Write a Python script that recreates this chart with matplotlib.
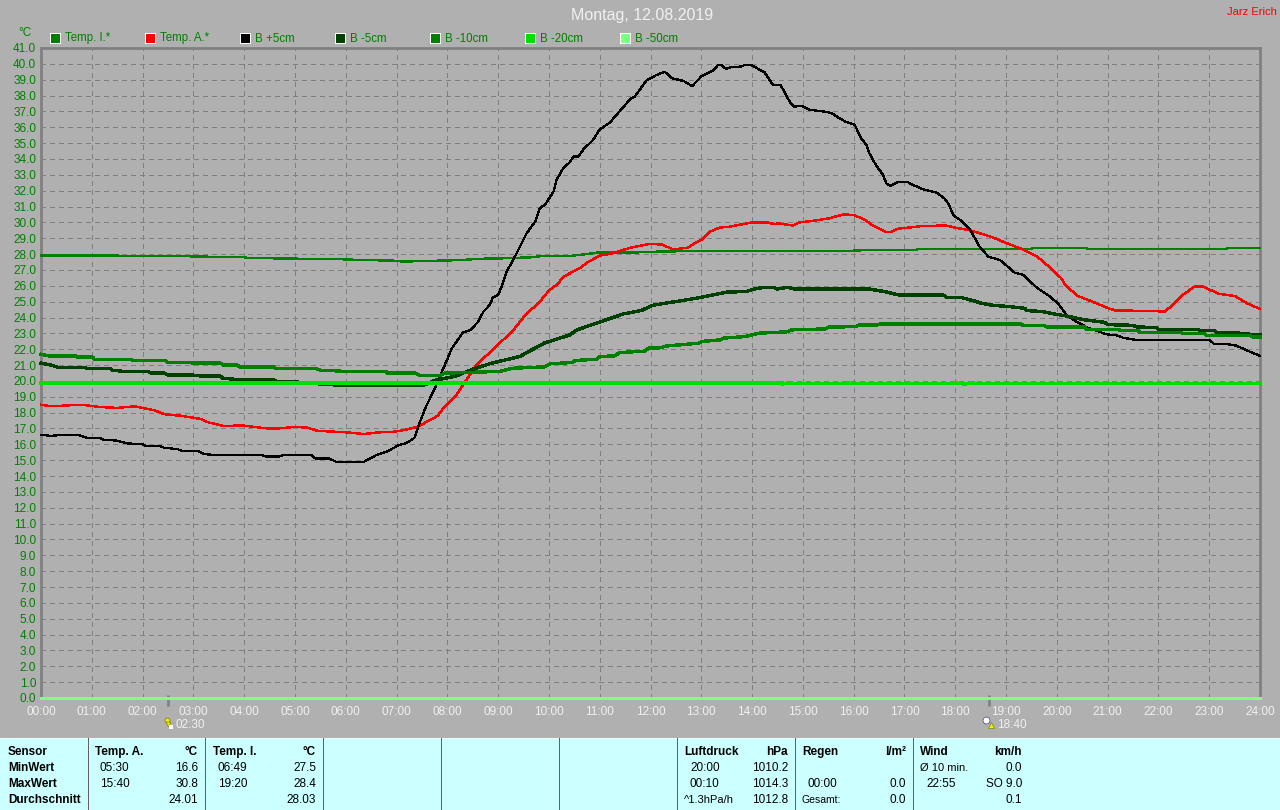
import matplotlib
matplotlib.use("Agg")
import matplotlib.pyplot as plt
from matplotlib.patches import Rectangle

plt.rcParams['font.family'] = ['Liberation Sans', 'DejaVu Sans']
plt.rcParams['lines.scale_dashes'] = False

title = "Montag, 12.08.2019"
author = "Jarz Erich"

hours = [f"{h:02d}:00" for h in range(25)]
temps = list(range(0, 42))

# Temp. I.
ti_t = [0, 1.5, 2.9, 3.0, 4.0, 4.1, 5.0, 5.1, 6.0, 6.1, 7.0, 7.1, 7.66, 8.31, 8.58, 9.17, 9.66, 9.86, 10.41, 10.74, 10.94, 11.66, 12.19, 12.97, 15.92, 16.25, 17.23, 17.26, 19.5, 19.53, 20.58, 20.6, 23.34, 23.37, 24]
ti_v = [27.9, 27.9, 27.87, 27.85, 27.8, 27.75, 27.72, 27.7, 27.67, 27.65, 27.58, 27.53, 27.57, 27.63, 27.7, 27.74, 27.8, 27.88, 27.88, 28.0, 28.09, 28.1, 28.16, 28.2, 28.2, 28.26, 28.26, 28.33, 28.33, 28.39, 28.39, 28.33, 28.33, 28.39, 28.39]

# Temp. A.
ta_t = [0, .2, .79, 1.18, 1.51, 1.84, 2.23, 2.43, 2.76, 3.15, 3.28, 3.61, 3.94, 4.2, 4.46, 4.66, 4.99, 5.25, 5.45, 5.77, 6.04, 6.36, 6.63, 6.96, 7.15, 7.41, 7.61, 7.81, 7.92, 8.15, 8.31, 8.57, 8.97, 9.3, 9.52, 9.82, 10.0, 10.15, 10.3, 10.6, 10.77, 11.0, 11.25, 11.6, 12.0, 12.22, 12.45, 12.74, 12.87, 13.03, 13.16, 13.36, 13.56, 14.0, 14.31, 14.41, 14.54, 14.8, 14.93, 15.2, 15.52, 15.79, 16.0, 16.2, 16.38, 16.64, 16.74, 16.87, 17.17, 17.36, 17.82, 18.03, 18.29, 18.55, 18.75, 19.0, 19.33, 19.63, 19.83, 20.08, 20.18, 20.41, 20.7, 21.0, 21.16, 21.82, 22.12, 22.25, 22.48, 22.71, 22.88, 23.18, 23.5, 23.74, 24]
ta_v = [18.5, 18.4, 18.5, 18.35, 18.3, 18.4, 18.15, 17.9, 17.8, 17.6, 17.4, 17.15, 17.2, 17.1, 17.0, 17.0, 17.1, 17.05, 16.85, 16.8, 16.75, 16.65, 16.75, 16.8, 16.9, 17.1, 17.45, 17.8, 18.27, 19.0, 19.75, 21.0, 22.2, 23.2, 24.1, 25.0, 25.7, 26.05, 26.6, 27.1, 27.5, 27.9, 28.05, 28.4, 28.65, 28.6, 28.3, 28.4, 28.7, 28.95, 29.4, 29.67, 29.73, 30.0, 30.0, 29.9, 29.93, 29.8, 30.0, 30.1, 30.26, 30.5, 30.47, 30.2, 29.8, 29.4, 29.4, 29.6, 29.7, 29.78, 29.8, 29.65, 29.5, 29.25, 29.04, 28.7, 28.3, 27.8, 27.25, 26.5, 26.0, 25.36, 25.0, 24.6, 24.44, 24.42, 24.37, 24.7, 25.43, 25.95, 25.95, 25.5, 25.36, 24.9, 24.54]

# B +5cm
b5_t = [0, .2, .39, .72, .92, 1.15, 1.25, 1.48, 1.71, 1.97, 2.07, 2.33, 2.43, 2.69, 2.76, 3.08, 3.22, 3.41, 4.33, 4.43, 4.69, 4.79, 5.31, 5.41, 5.68, 5.81, 6.36, 6.46, 6.59, 6.82, 7.05, 7.19, 7.35, 7.45, 7.58, 7.74, 7.99, 8.09, 8.31, 8.45, 8.61, 8.71, 8.84, 8.89, 9.0, 9.07, 9.17, 9.33, 9.56, 9.73, 9.82, 9.92, 10.09, 10.15, 10.28, 10.41, 10.48, 10.58, 10.68, 10.87, 10.99, 11.2, 11.4, 11.6, 11.69, 11.92, 12.12, 12.28, 12.42, 12.65, 12.82, 13.0, 13.23, 13.33, 13.39, 13.49, 13.59, 13.79, 13.85, 13.98, 14.12, 14.25, 14.41, 14.56, 14.74, 14.82, 14.97, 15.13, 15.4, 15.56, 15.72, 15.85, 16.02, 16.15, 16.25, 16.31, 16.44, 16.58, 16.64, 16.72, 16.87, 17.07, 17.17, 17.36, 17.63, 17.79, 17.86, 17.97, 18.12, 18.28, 18.48, 18.65, 18.88, 19.17, 19.33, 19.6, 19.83, 20.02, 20.19, 20.38, 20.61, 20.98, 21.17, 21.3, 21.53, 23.0, 23.09, 23.34, 23.53, 23.76, 24]
b5_v = [16.6, 16.53, 16.6, 16.6, 16.4, 16.4, 16.28, 16.24, 16.05, 16.03, 15.9, 15.9, 15.78, 15.7, 15.6, 15.6, 15.38, 15.33, 15.33, 15.23, 15.23, 15.35, 15.35, 15.1, 15.1, 14.9, 14.9, 15.08, 15.3, 15.56, 15.96, 16.07, 16.4, 17.33, 18.38, 19.43, 21.32, 22.06, 23.07, 23.2, 23.74, 24.37, 24.8, 25.25, 25.42, 25.95, 26.9, 27.84, 29.31, 30.05, 30.9, 31.1, 31.94, 32.68, 33.41, 33.79, 34.15, 34.15, 34.61, 35.2, 35.83, 36.3, 37.03, 37.77, 37.94, 38.95, 39.3, 39.5, 39.1, 38.92, 38.6, 39.2, 39.58, 39.93, 39.93, 39.68, 39.8, 39.83, 39.93, 39.93, 39.68, 39.45, 38.67, 38.67, 37.62, 37.3, 37.35, 37.1, 37.0, 36.9, 36.57, 36.34, 36.15, 35.3, 34.9, 34.36, 33.6, 33.0, 32.47, 32.3, 32.55, 32.53, 32.36, 32.1, 31.88, 31.5, 31.2, 30.43, 30.1, 29.6, 28.47, 27.84, 27.63, 26.83, 26.7, 25.9, 25.4, 24.9, 24.16, 23.74, 23.36, 22.94, 22.88, 22.73, 22.6, 22.6, 22.35, 22.33, 22.23, 21.9, 21.58]

# B -5cm
bm5_t = [0, .2, .33, .85, .89, 1.35, 1.41, 1.64, 2.1, 2.17, 2.43, 2.49, 3.08, 3.15, 3.54, 3.58, 3.87, 4.56, 4.63, 4.99, 5.1, 5.77, 7.55, 7.74, 8.16, 8.5, 8.87, 9.43, 9.57, 9.92, 10.41, 10.55, 10.97, 11.47, 11.82, 12.03, 12.38, 12.63, 13.01, 13.5, 13.89, 14.03, 14.24, 14.42, 14.49, 14.7, 14.84, 16.32, 16.6, 16.88, 17.76, 17.83, 18.09, 18.35, 18.51, 18.74, 19.07, 19.37, 19.4, 19.73, 19.99, 20.19, 20.55, 20.94, 21.0, 21.5, 21.57, 21.96, 22.0, 22.78, 22.81, 23.11, 23.14, 23.73, 23.86, 24]
bm5_v = [21.12, 21.0, 20.86, 20.86, 20.8, 20.8, 20.67, 20.6, 20.6, 20.49, 20.49, 20.38, 20.36, 20.3, 20.3, 20.17, 20.09, 20.09, 19.98, 19.98, 19.9, 19.75, 19.75, 20.03, 20.3, 20.74, 21.12, 21.54, 21.8, 22.4, 22.9, 23.22, 23.68, 24.23, 24.44, 24.76, 24.95, 25.07, 25.28, 25.6, 25.64, 25.79, 25.91, 25.91, 25.79, 25.91, 25.79, 25.79, 25.64, 25.43, 25.43, 25.28, 25.28, 25.07, 24.9, 24.77, 24.69, 24.58, 24.44, 24.37, 24.2, 24.1, 23.85, 23.7, 23.55, 23.51, 23.41, 23.36, 23.24, 23.24, 23.17, 23.17, 23.05, 23.0, 22.9, 22.9]

# B -10cm
bm10_t = [0, .16, .69, .72, 1.02, 1.05, 1.77, 1.8, 2.46, 2.49, 3.54, 3.58, 3.87, 3.9, 4.59, 4.63, 5.41, 5.51, 5.87, 5.91, 6.79, 6.82, 7.38, 7.45, 7.87, 7.94, 8.53, 9.04, 9.29, 9.92, 10.03, 10.45, 10.52, 10.94, 11.01, 11.29, 11.4, 11.89, 11.96, 12.2, 12.31, 12.94, 13.01, 13.37, 13.44, 13.86, 14.14, 14.7, 14.77, 15.44, 15.51, 16.04, 16.11, 16.46, 16.5, 19.3, 19.33, 19.73, 19.81, 20.55, 20.58, 21.2, 21.24, 21.6, 21.63, 22.45, 22.48, 22.91, 22.94, 23.8, 23.86, 24]
bm10_v = [21.68, 21.58, 21.58, 21.5, 21.5, 21.37, 21.37, 21.28, 21.28, 21.16, 21.12, 21.0, 21.0, 20.89, 20.87, 20.78, 20.78, 20.67, 20.63, 20.6, 20.6, 20.49, 20.49, 20.36, 20.36, 20.49, 20.55, 20.6, 20.8, 20.89, 21.08, 21.16, 21.29, 21.37, 21.54, 21.58, 21.79, 21.88, 22.07, 22.09, 22.2, 22.38, 22.49, 22.59, 22.7, 22.8, 23.01, 23.1, 23.22, 23.28, 23.39, 23.43, 23.52, 23.52, 23.58, 23.58, 23.51, 23.51, 23.41, 23.41, 23.26, 23.26, 23.2, 23.2, 23.07, 23.07, 22.98, 22.98, 22.88, 22.88, 22.77, 22.77]

# B -20cm
bm20_t = [0, 14.5, 14.6, 14.7, 14.8, 15.0, 15.1, 15.8, 15.9, 16.0, 17.9, 18.0, 18.2, 18.3, 18.6, 18.7, 24]
bm20_v = [19.87, 19.87, 19.8, 19.87, 19.82, 19.82, 19.85, 19.82, 19.87, 19.82, 19.82, 19.87, 19.8, 19.87, 19.82, 19.85, 19.85]

# B -50cm
bm50_t = [0, 24]
bm50_v = [0.0, 0.0]

legend_names = ["Temp. I.*", "Temp. A.*", "B +5cm", "B -5cm", "B -10cm", "B -20cm", "B -50cm"]
legend_colors = ["#008000", "#ff0000", "#000000", "#004000", "#008000", "#00e000", "#80ff80"]

events = [2.5, 18 + 40 / 60]
event_labels = ["02:30", "18:40"]

W, H = 1280, 810
GREEN = "#008000"
GRAY = "#808080"
BG = "#b0b0b0"
LIGHT = "#f0f0f0"

fig = plt.figure(figsize=(W / 100, H / 100), dpi=100, facecolor=BG)

ax = fig.add_axes([41 / W, 1 - 698 / H, (1260 - 41) / W, (698 - 48) / H], facecolor=BG)
ax.set_xlim(0, 24)
ax.set_ylim(0, 41)
ax.set_xticks(range(25))
ax.set_xticklabels(hours, color=LIGHT, fontsize=8.5)
ax.set_yticks(temps)
ax.set_yticklabels([f"{t:.1f}" for t in temps], color=GREEN, fontsize=8.5)
ax.tick_params(axis='x', length=0, pad=6)
ax.tick_params(axis='y', length=0, pad=3.5)
ax.grid(True, color=GRAY, linewidth=0.72, linestyle=(0, (2.9, 2.9)), antialiased=False)
ax.set_axisbelow(True)
for s in ax.spines.values():
    s.set_color(GRAY)
    s.set_linewidth(2.0)

series = [
    (ti_t, ti_v, 0, 1.0),
    (ta_t, ta_v, 1, 1.0),
    (b5_t, b5_v, 2, 0.9),
    (bm5_t, bm5_v, 3, 1.7),
    (bm10_t, bm10_v, 4, 1.7),
    (bm20_t, bm20_v, 5, 1.7),
    (bm50_t, bm50_v, 6, 1.0),
]
for t, v, i, lw in series:
    ax.plot(t, v, color=legend_colors[i], linewidth=lw, antialiased=False,
            solid_joinstyle='round', clip_on=False, zorder=3 + i)

# sunrise / sunset marks under the axis
tr = ax.get_xaxis_transform()
for e, lab in zip(events, event_labels):
    ax.plot([e, e], [0.005, -0.012], color=GRAY, linewidth=2, transform=tr, clip_on=False, solid_capstyle='butt')
    ax.annotate(lab, (e, 0), xytext=(8, -27), textcoords='offset pixels', color=LIGHT,
                fontsize=8.5, ha='left', va='center', annotation_clip=False)

# everything else is placed in pixel coordinates
ov = fig.add_axes([0, 0, 1, 1], facecolor='none')
ov.set_xlim(0, W)
ov.set_ylim(H, 0)
ov.axis('off')

# small sun/moon icons
ov.plot([167], [720], marker='o', ms=3.5, color="#f0f000", mec="#808000", mew=0.5)
ov.plot([168], [724], marker='v', ms=3.5, color="#f0f000", mec="#808000", mew=0.5)
ov.plot([171], [727], marker='s', ms=3, color="white", mew=0)
ov.plot([986], [720], marker='o', ms=5, color="white", mec="#404080", mew=0.5)
ov.plot([991], [725], marker='^', ms=4.5, color="#f0f000", mec="#808000", mew=0.5)

ov.text(642, 15.5, title, color=LIGHT, fontsize=11.5, ha='center', va='center')
ov.text(1277, 12, author, color="#ff0000", fontsize=8, ha='right', va='center')
ov.text(25, 32.5, "°C", color=GREEN, fontsize=8.5, ha='center', va='center')

legend_x = [50, 145, 240, 335, 430, 525, 620]
for x, name, c in zip(legend_x, legend_names, legend_colors):
    ov.add_patch(Rectangle((x, 33), 11, 11, facecolor='white', edgecolor='none', antialiased=False))
    ov.add_patch(Rectangle((x + 1, 34), 9, 9, facecolor=c, edgecolor='none', antialiased=False))
    ov.text(x + 15, 38.5, name, color=GREEN, fontsize=8.3, ha='left', va='center')

# table under the chart
ov.add_patch(Rectangle((0, 738), W, 72, facecolor="#ccffff", edgecolor='none', zorder=0))
ov.plot([0, W], [737.5, 737.5], color="#e8ffff", linewidth=0.75, zorder=1)
for x in [88, 205, 323, 441, 559, 677, 795, 913]:
    ov.plot([x, x], [738, 810], color="#606060", linewidth=0.6, zorder=1, antialiased=False)

rows = [752, 768, 784, 800]
left = ["Sensor", "MinWert", "MaxWert", "Durchschnitt"]
for y, s in zip(rows, left):
    ov.text(8, y, s, fontsize=8.5, fontweight='bold', color='black', va='center')


def column(x_head, head, x_right, unit, x_time, times, values):
    ov.text(x_head, rows[0], head, fontsize=8.5, fontweight='bold', va='center')
    ov.text(x_right, rows[0], unit, fontsize=8.5, fontweight='bold', va='center', ha='right')
    for y, t, v in zip(rows[1:], times, values):
        ov.text(x_time, y, t, fontsize=8.5, va='center')
        ov.text(x_right, y, v, fontsize=8.5, va='center', ha='right')


column(95, "Temp. A.", 198, "°C", 100, ["05:30", "15:40", ""], ["16.6", "30.8", "24.01"])
column(213, "Temp. I.", 316, "°C", 218, ["06:49", "19:20", ""], ["27.5", "28.4", "28.03"])
column(684, "Luftdruck", 788, "hPa", 690, ["20:00", "00:10", ""], ["1010.2", "1014.3", "1012.8"])
ov.text(684, rows[3], "^1.3hPa/h", fontsize=8, va='center')
column(802, "Regen", 906, "l/m²", 808, ["", "00:00", ""], ["", "0.0", "0.0"])
ov.text(802, rows[3], "Gesamt:", fontsize=7.5, va='center')
column(920, "Wind", 1022, "km/h", 926, ["", "22:55", ""], ["0.0", "SO 9.0", "0.1"])
ov.text(920, rows[1], "Ø 10 min.", fontsize=8, va='center')

fig.savefig("out.png", dpi=100, facecolor=BG)
